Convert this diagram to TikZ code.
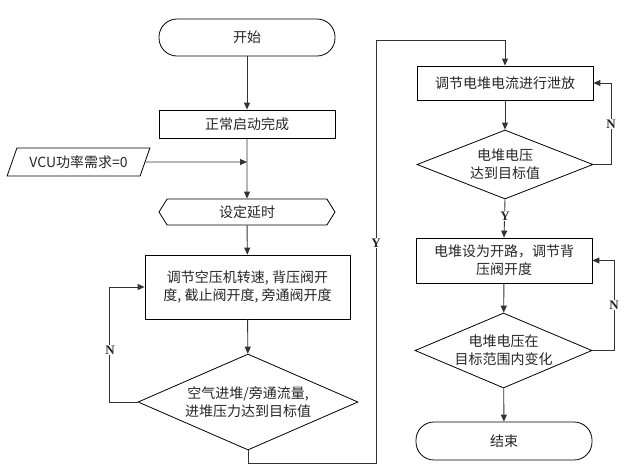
\documentclass[tikz,border=0pt]{standalone}
\usepackage{fontspec}
\setmainfont{Noto Sans CJK SC}
\newfontfamily\latinfont{Liberation Serif}
\usetikzlibrary{arrows.meta,shapes.geometric,shapes.symbols}
\tikzset{
	flow/.style={line width=0.9pt, draw=black!80, -{Triangle[length=7pt,width=6pt]}},
	line/.style={line width=0.9pt, draw=black!80},
	box/.style={draw, line width=0.8pt, minimum width=176pt, minimum height=28pt, align=center, inner sep=2pt, text=black!85},
	terminal/.style={draw, line width=0.8pt, rounded corners=18pt, minimum width=176pt, minimum height=37pt, text=black!85},
	hexa/.style={draw, line width=0.8pt, signal, signal to=west and east, signal pointer angle=116, minimum width=176pt, minimum height=26pt, inner sep=1pt, text=black!85},
	io/.style={draw, line width=0.8pt, trapezium, trapezium left angle=62, trapezium right angle=118, trapezium stretches=true, minimum width=143pt, minimum height=28pt, inner sep=1pt, text=black!85},
	decision/.style={draw, line width=0.8pt, diamond, inner sep=0pt},
	dtext/.style={align=center, text=black!85, inner sep=0pt},
	lbl/.style={fill=white, inner sep=1pt, font=\latinfont\bfseries\fontsize{13}{13}\selectfont, text=black!85}
}

\begin{document}
\begin{tikzpicture}[x=1pt, y=-1pt, font=\fontsize{14}{18}\selectfont]
	%%%%% START %%%%%
	\useasboundingbox (0,0) rectangle (624,475);

	% left column
	\node[terminal] (start) at (247, 37.5) {开始};
	\node[box] (ready) at (247, 124) {正常启动完成};
	\node[io] (vcu) at (78.5, 162) {VCU功率需求=0};
	\coordinate (join) at (247, 162);
	\node[hexa] (delay) at (247, 212) {设定延时};
	\node[box, minimum width=205pt, minimum height=64pt] (adjair) at (247.5, 287) {调节空压机转速, 背压阀开\\度, 截止阀开度, 旁通阀开度};
	\node[decision, minimum width=220pt, minimum height=96pt] (chkair) at (248, 402) {};
	\node[dtext] (chkairt) at (chkair) {空气进堆/旁通流量,\\进堆压力达到目标值};

	% right column
	\node[box, minimum height=34pt] (bleed) at (505, 83) {调节电堆电流进行泄放};
	\node[decision, minimum width=176pt, minimum height=69pt] (chkv1) at (505, 164.5) {};
	\node[dtext] (chkv1t) at (chkv1) {电堆电压\\达到目标值};
	\node[box, minimum height=45pt] (openc) at (504, 260.5) {电堆设为开路，调节背\\压阀开度};
	\node[decision, minimum width=177pt, minimum height=75pt] (chkv2) at (503.5, 350.5) {};
	\node[dtext] (chkv2t) at (chkv2) {电堆电压在\\目标范围内变化};
	\node[terminal, minimum height=38pt] (stop) at (504, 441) {结束};

	\coordinate (ybot) at (376, 463);
	\coordinate (ytop) at (376, 40);

	% connectors
	\draw[flow] (start) -- (ready);
	\draw[flow] (ready) -- (delay);
	\draw[flow] (vcu.east) -- (join);
	\draw[flow] (delay) -- (adjair);
	\draw[flow] (adjair) -- (chkair);
	\draw[flow] (chkair.west) -- ++(-28,0) |- (adjair.west);
	\node[lbl] at (110, 350) {N};
	\draw[flow] (chkair.south) |- (ybot) -- (ytop) -| (bleed.north);
	\node[lbl] at (376, 243) {Y};

	\draw[flow] (bleed) -- (chkv1);
	\draw[flow] (chkv1.east) -- ++(18,0) |- (bleed.east);
	\node[lbl] at (611, 124) {N};
	\draw[flow] (chkv1.south) -- (openc.north);
	\node[lbl] at (505, 216) {Y};
	\draw[flow] (openc) -- (chkv2);
	\draw[flow] (chkv2.east) -- ++(22,0) |- (openc.east);
	\node[lbl] at (614, 305) {N};
	\draw[flow] (chkv2) -- (stop);
	%%%%% END %%%%%
\end{tikzpicture}
\end{document}
